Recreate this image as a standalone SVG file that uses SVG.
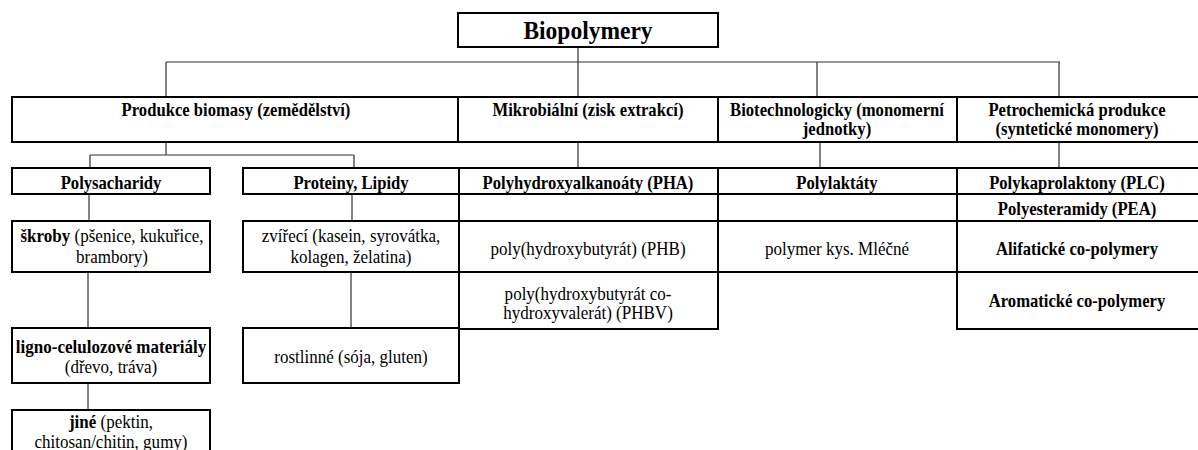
<svg xmlns="http://www.w3.org/2000/svg" width="1198" height="450" viewBox="0 0 1198 450">
<style>
.box{fill:#fff;stroke:#000;stroke-width:2}
.conn{fill:none;stroke:#333;stroke-width:1.2}
text{font-family:"Liberation Serif","Times New Roman",serif;font-size:18.5px;fill:#000;text-anchor:middle}
.b{font-weight:bold}
.title{font-size:25px;font-weight:bold}
</style>
<rect width="1198" height="450" fill="#fff"/>
<g id="connectors">
<path class="conn" d="M578 47V97M166 62H1060M166 62V97M817 62V97M1059 62V97"/>
<path class="conn" d="M166 142V155M90 155H354M90 155V168M354 155V168"/>
<path class="conn" d="M578 142V168M820 142V168M1059 142V168"/>
<path class="conn" d="M89 194V221M88 272V328M88 383V410"/>
<path class="conn" d="M352 194V221M351 272V328"/>
<path class="conn" d="M580 196V221M819 196V221"/>
</g>
<g id="table-cells">
<rect class="box" x="459" y="194" width="259" height="27"/>
<rect class="box" x="718" y="194" width="239" height="27"/>
</g>
<g id="n-biopolymery">
<rect class="box" x="458" y="13" width="260" height="34"/>
<text class="title" transform="translate(588,39) scale(0.94,1)">Biopolymery</text>
</g>
<g id="n-produkce">
<rect class="box" x="12" y="97" width="446" height="45"/>
<text class="b" transform="translate(236,116) scale(0.9,1)">Produkce biomasy (zemědělství)</text>
</g>
<g id="n-mikrobialni">
<rect class="box" x="458" y="97" width="260" height="45"/>
<text class="b" transform="translate(588,116) scale(0.9,1)">Mikrobiální (zisk extrakcí)</text>
</g>
<g id="n-biotech">
<rect class="box" x="718" y="97" width="239" height="45"/>
<text class="b" transform="translate(837,116) scale(0.9,1)"><tspan x="0" y="0">Biotechnologicky (monomerní</tspan><tspan x="0" y="19">jednotky)</tspan></text>
</g>
<g id="n-petrochem">
<rect class="box" x="957" y="97" width="245" height="45"/>
<text class="b" transform="translate(1077,116) scale(0.9,1)"><tspan x="0" y="0">Petrochemická produkce</tspan><tspan x="0" y="19">(syntetické monomery)</tspan></text>
</g>
<g id="n-polysacharidy">
<rect class="box" x="12" y="168" width="198" height="26"/>
<text class="b" transform="translate(111,189) scale(0.9,1)">Polysacharidy</text>
</g>
<g id="n-proteiny">
<rect class="box" x="243" y="168" width="216" height="26"/>
<text class="b" transform="translate(351,189) scale(0.9,1)">Proteiny, Lipidy</text>
</g>
<g id="n-pha">
<rect class="box" x="459" y="168" width="259" height="26"/>
<text class="b" transform="translate(588,189) scale(0.9,1)">Polyhydroxyalkanoáty (PHA)</text>
</g>
<g id="n-polylaktaty">
<rect class="box" x="718" y="168" width="239" height="26"/>
<text class="b" transform="translate(837,189) scale(0.9,1)">Polylaktáty</text>
</g>
<g id="n-plc">
<rect class="box" x="957" y="168" width="245" height="26"/>
<text class="b" transform="translate(1077,189) scale(0.9,1)">Polykaprolaktony (PLC)</text>
</g>
<g id="n-pea">
<rect class="box" x="957" y="194" width="245" height="27"/>
<text class="b" transform="translate(1077,215) scale(0.9,1)">Polyesteramidy (PEA)</text>
</g>
<g id="n-skroby">
<rect class="box" x="12" y="221" width="198" height="51"/>
<text transform="translate(112,242) scale(0.92,1)"><tspan x="0" y="0"><tspan class="b">škroby</tspan> (pšenice, kukuřice,</tspan><tspan x="0" y="21">brambory)</tspan></text>
</g>
<g id="n-zvireci">
<rect class="box" x="243" y="221" width="216" height="51"/>
<text transform="translate(351,242) scale(0.92,1)"><tspan x="0" y="0">zvířecí (kasein, syrovátka,</tspan><tspan x="0" y="21">kolagen, želatina)</tspan></text>
</g>
<g id="n-phb">
<rect class="box" x="459" y="221" width="259" height="51"/>
<text transform="translate(588,255) scale(0.92,1)">poly(hydroxybutyrát) (PHB)</text>
</g>
<g id="n-pla">
<rect class="box" x="718" y="221" width="239" height="51"/>
<text transform="translate(837,255) scale(0.92,1)">polymer kys. Mléčné</text>
</g>
<g id="n-alifaticke">
<rect class="box" x="957" y="221" width="245" height="51"/>
<text class="b" transform="translate(1077,255) scale(0.9,1)">Alifatické co-polymery</text>
</g>
<g id="n-phbv">
<rect class="box" x="459" y="272" width="259" height="57"/>
<text transform="translate(588,300) scale(0.92,1)"><tspan x="0" y="0">poly(hydroxybutyrát co-</tspan><tspan x="0" y="19">hydroxyvalerát) (PHBV)</tspan></text>
</g>
<g id="n-aromaticke">
<rect class="box" x="957" y="272" width="245" height="57"/>
<text class="b" transform="translate(1077,307) scale(0.9,1)">Aromatické co-polymery</text>
</g>
<g id="n-ligno">
<rect class="box" x="12" y="328" width="198" height="55"/>
<text transform="translate(111,353) scale(0.92,1)"><tspan x="0" y="0" class="b">ligno-celulozové materiály</tspan><tspan x="0" y="20">(dřevo, tráva)</tspan></text>
</g>
<g id="n-rostlinne">
<rect class="box" x="243" y="328" width="216" height="55"/>
<text transform="translate(351,363) scale(0.92,1)">rostlinné (sója, gluten)</text>
</g>
<g id="n-jine">
<rect class="box" x="12" y="410" width="198" height="60"/>
<text transform="translate(111,428) scale(0.92,1)"><tspan x="0" y="0"><tspan class="b">jiné</tspan> (pektin,</tspan><tspan x="0" y="20">chitosan/chitin, gumy)</tspan></text>
</g>
</svg>
